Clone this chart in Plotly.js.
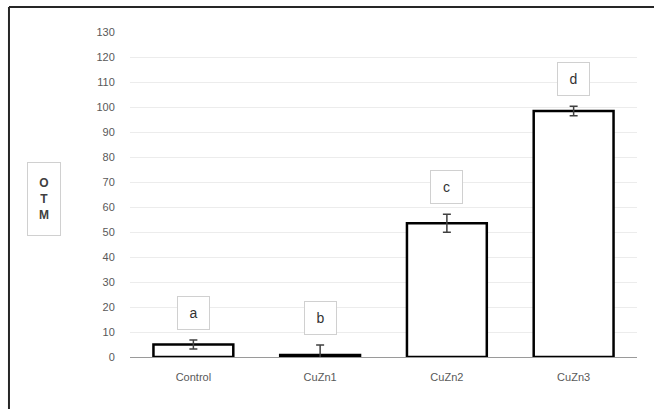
<!DOCTYPE html>
<html>
<head>
<meta charset="utf-8">
<script src="https://cdn.plot.ly/plotly-3.0.1.min.js"></script>
<style>html,body{margin:0;padding:0;background:#fff;}#chart{width:654px;height:409px;}</style>
</head>
<body>
<div id="chart"></div>
<script>
var categories = ["Control", "CuZn1", "CuZn2", "CuZn3"];
var otmValues = [5, 0.8, 53.5, 98.4];
var otmErrors = [1.8, 4, 3.6, 1.9];
var groupLetters = ["a", "b", "c", "d"];
var yTicks = [0, 10, 20, 30, 40, 50, 60, 70, 80, 90, 100, 110, 120, 130];

var FONT = "Liberation Sans, Arial, sans-serif";

var trace = {
  type: "bar",
  x: categories,
  y: otmValues,
  marker: {color: "#ffffff", line: {color: "#000000", width: 2.5}},
  error_y: {type: "data", array: otmErrors, visible: true, color: "#404040", thickness: 1.5, width: 4},
  hoverinfo: "none"
};

var annotations = categories.map(function (c, i) {
  return {
    x: c, y: otmValues[i] + otmErrors[i] + 11,
    xref: "x", yref: "y",
    xanchor: "center", yanchor: "middle",
    text: groupLetters[i],
    showarrow: false,
    font: {family: FONT, size: 14, color: "#333333"},
    bordercolor: "#d0d0d0", borderwidth: 1,
    width: 29, height: 30,
    bgcolor: "#ffffff"
  };
});
annotations.push({
  x: -0.1696, y: 0.486, xref: "paper", yref: "paper",
  xanchor: "center", yanchor: "middle",
  text: "<b>O</b><br><b>T</b><br><b>M</b>",
  showarrow: false,
  font: {family: FONT, size: 12, color: "#404040"},
  bordercolor: "#d0d0d0", borderwidth: 1,
  width: 30, height: 70, bgcolor: "#ffffff"
});

var layout = {
  width: 654, height: 409,
  margin: {l: 130, r: 17, t: 32, b: 52},
  paper_bgcolor: "#ffffff", plot_bgcolor: "#ffffff",
  showlegend: false,
  bargap: 0.37,
  font: {family: FONT},
  xaxis: {
    type: "category",
    showline: true, linecolor: "#9a9a9a", linewidth: 1,
    showgrid: false, zeroline: false,
    ticks: "outside", ticklen: 10, tickcolor: "rgba(0,0,0,0)",
    tickfont: {family: FONT, size: 11, color: "#595959"}
  },
  yaxis: {
    range: [0, 130],
    tickvals: yTicks,
    ticktext: yTicks.map(String),
    showgrid: true, gridcolor: "#ececec", gridwidth: 1,
    zeroline: false, showline: false,
    ticks: "outside", ticklen: 12, tickcolor: "rgba(0,0,0,0)",
    tickfont: {family: FONT, size: 11, color: "#595959"}
  },
  annotations: annotations,
  shapes: [
    {type: "line", xref: "paper", yref: "paper", x0: -0.2387, x1: -0.2387, y0: -0.2, y1: 1.0769, line: {color: "#262626", width: 2}},
    {type: "line", xref: "paper", yref: "paper", x0: -0.2387, x1: 1.1, y0: 1.0769, y1: 1.0769, line: {color: "#262626", width: 2}}
  ]
};

Plotly.newPlot("chart", [trace], layout, {displayModeBar: false, staticPlot: true});
</script>
</body>
</html>
